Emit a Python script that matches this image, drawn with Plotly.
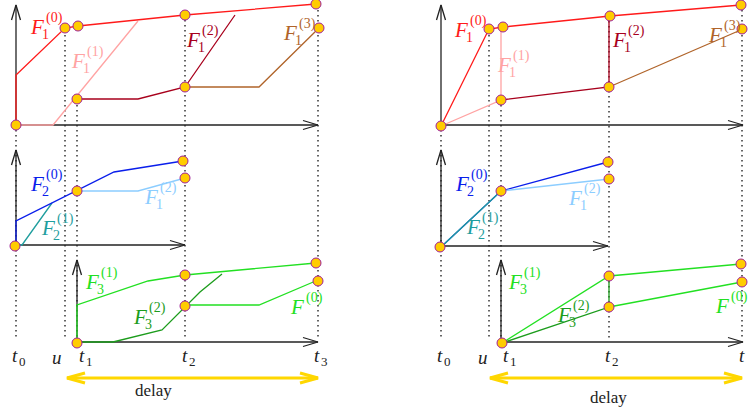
import plotly.graph_objects as go

# ---- time positions on the left copy (the right copy is shifted) ----
T_NAMES = ["t0", "u", "t1", "t2", "t3"]
T_LEFT = [16, 65, 77, 185, 318]
T_RIGHT = [441, 489, 501, 609, 742]

# ---- left diagram: polylines (x, y) ----
l_f1_0 = ([16, 16, 65, 78, 185, 316], [125, 75, 28, 26, 15, 4])
l_f1_1 = ([16, 53, 138], [125, 125, 21])
l_f1_2 = ([77, 138, 185, 235], [99, 99, 87, 15])
l_f1_3 = ([185, 259, 319], [87, 87, 28])
l_f2_0 = ([16, 16, 114, 183], [245, 221, 172, 161])
l_f2_1 = ([16, 22, 52], [245, 245, 203])
l_f1_2b = ([77, 138, 185], [191, 191, 178])
l_f3_1 = ([77, 77, 148, 185, 316], [343, 305, 281, 275, 263])
l_f3_2 = ([77, 113, 162, 200, 222], [342, 342, 330, 292, 274])
l_f_0 = ([185, 259, 318], [305, 305, 280])
l_nodes_x = [16, 65, 78, 185, 316, 77, 185, 319, 15, 77, 183, 185, 77, 185, 185, 316, 318]
l_nodes_y = [125, 28, 26, 15, 4, 99, 87, 28, 246, 191, 161, 178, 343, 275, 306, 263, 281]

# ---- right diagram ----
r_f1_0 = ([441, 489, 503, 610, 741], [126, 29, 27, 16, 5])
r_f1_1 = ([441, 501, 501], [126, 100, 27])
r_f1_2 = ([501, 609, 609], [100, 87, 16])
r_f1_3 = ([609, 743], [87, 29])
r_f2_0 = ([441, 501, 608], [247, 191, 162])
r_f2_1 = ([441, 501], [247, 191])
r_f1_2b = ([501, 609], [191, 179])
r_f3_1 = ([502, 609, 741], [343, 276, 264])
r_f3_2 = ([502, 609, 609], [343, 307, 276])
r_f_0 = ([609, 742], [307, 282])
r_nodes_x = [441, 489, 503, 610, 741, 501, 609, 742, 440, 501, 608, 609, 502, 609, 609, 741, 742]
r_nodes_y = [126, 29, 27, 16, 5, 100, 87, 29, 247, 191, 162, 179, 343, 276, 307, 264, 282]

# axes of the small panels: (x0, y0, x1, y1)
axes_left = [(16, 125, 16, 5), (16, 125, 318, 125), (16, 245, 16, 150), (16, 245, 185, 245),
             (77, 343, 77, 260), (77, 342, 318, 342)]
axes_right = [(441, 126, 441, 5), (441, 125, 743, 125), (441, 247, 441, 150), (441, 246, 608, 246),
              (501, 343, 501, 260), (501, 342, 743, 342)]
dots_top_left = [130, 30, 100, 15, 5]
dots_top_right = [130, 30, 100, 16, 5]
DOT_BOTTOM = 339

RED, PINK, DRED, BROWN = "#ff1a1a", "#ffa3a3", "#a8001c", "#b0642a"
BLUE, TEAL, LBLUE = "#0a1eeb", "#1f9e9e", "#8ccdff"
GREEN, DGREEN = "#22e022", "#1c9c1c"

fig = go.Figure()


def line(xy, color, width=1.3, dash=None):
    fig.add_trace(go.Scatter(x=xy[0], y=xy[1], mode="lines", hoverinfo="skip",
                             line=dict(color=color, width=width, dash=dash)))


def arrow(x0, y0, x1, y1, color="#222222", width=1.3, head=15, half=4.5, both=False):
    line(([x0, x1], [y0, y1]), color, width)
    ends = [(x0, y0, x1, y1)] + ([(x1, y1, x0, y0)] if both else [])
    for a, b, c, d in ends:
        dx, dy = c - a, d - b
        n = (dx * dx + dy * dy) ** 0.5
        ux, uy = dx / n, dy / n
        px, py = -uy, ux
        bx, by = c - ux * head, d - uy * head
        line(([bx + px * half, c, bx - px * half], [by + py * half, d, by - py * half]), color, width)


for xs, tops in ((T_LEFT, dots_top_left), (T_RIGHT, dots_top_right)):
    for x, top in zip(xs, tops):
        line(([x, x], [top, DOT_BOTTOM]), "#333333", 1.5, "1.5px,3.5px")

for ax in axes_left + axes_right:
    arrow(*ax)

curves = [
    (l_f1_1, PINK), (l_f1_0, RED), (l_f1_2, DRED), (l_f1_3, BROWN),
    (l_f2_1, TEAL), (l_f2_0, BLUE), (l_f1_2b, LBLUE),
    (l_f3_2, DGREEN), (l_f3_1, GREEN), (l_f_0, GREEN),
    (r_f1_1, PINK), (r_f1_0, RED), (r_f1_2, DRED), (r_f1_3, BROWN),
    (r_f2_0, BLUE), (r_f2_1, TEAL), (r_f1_2b, LBLUE),
    (r_f3_1, GREEN), (r_f3_2, DGREEN), (r_f_0, GREEN),
]
for xy, c in curves:
    line(xy, c)

fig.add_trace(go.Scatter(x=l_nodes_x + r_nodes_x, y=l_nodes_y + r_nodes_y, mode="markers",
                         hoverinfo="skip",
                         marker=dict(size=10, color="#ffcc00", line=dict(color="#a0209a", width=1))))

# yellow delay arrows
arrow(67, 378, 318, 378, "#ffd700", 3, 18, 5, both=True)
arrow(490, 378, 742, 378, "#ffd700", 3, 18, 5, both=True)

SERIF = "Liberation Serif"


def label(x, y, base, sub, sup, color, size=21, italic=True):
    txt = f"<i>{base}</i>" if italic else base
    fig.add_annotation(x=x, y=y, text=txt, showarrow=False,
                       font=dict(family=SERIF, size=size, color=color))
    if sub:
        fig.add_annotation(x=x + 8, y=y + 7, text=sub, showarrow=False, xanchor="center",
                           font=dict(family=SERIF, size=14, color=color))
    if sup:
        fig.add_annotation(x=x + 17, y=y - 9, text=sup, showarrow=False, xanchor="center",
                           font=dict(family=SERIF, size=14, color=color))


labels = [
    (37, 27, "1", "(0)", RED), (78, 61, "1", "(1)", PINK), (193, 40, "1", "(2)", DRED),
    (290, 33, "1", "(3)", BROWN), (37, 184, "2", "(0)", BLUE), (48, 228, "2", "(1)", TEAL),
    (151, 197, "1", "(2)", LBLUE), (92, 282, "3", "(1)", GREEN), (140, 317, "3", "(2)", DGREEN),
    (297, 307, "", "(0)", GREEN),
    (461, 30, "1", "(0)", RED), (504, 65, "1", "(1)", PINK), (619, 40, "1", "(2)", DRED),
    (715, 35, "1", "(3)", BROWN), (462, 184, "2", "(0)", BLUE), (473, 227, "2", "(1)", TEAL),
    (575, 198, "1", "(2)", LBLUE), (515, 282, "3", "(1)", GREEN), (564, 315, "3", "(2)", DGREEN),
    (722, 306, "", "(0)", GREEN),
]
for x, y, sub, sup, c in labels:
    label(x, y, "F", sub, sup, c)

tick_left = [(15, "0"), (57, None), (82, "1"), (185, "2"), (317, "3")]
tick_right = [(440, "0"), (483, None), (506, "1"), (608, "2"), (742, "3")]
for x, s in tick_left + tick_right:
    if s is None:
        label(x, 357, "u", "", "", "#222222", 19)
    else:
        fig.add_annotation(x=x, y=355, text="<i>t</i>", showarrow=False,
                           font=dict(family=SERIF, size=19, color="#222222"))
        fig.add_annotation(x=x + 7, y=361, text=s, showarrow=False,
                           font=dict(family=SERIF, size=13, color="#222222"))

fig.add_annotation(x=153, y=390, text="delay", showarrow=False,
                   font=dict(family=SERIF, size=17, color="#222222"))
fig.add_annotation(x=608, y=397, text="delay", showarrow=False,
                   font=dict(family=SERIF, size=17, color="#222222"))

fig.update_layout(width=748, height=410, margin=dict(l=0, r=0, t=0, b=0),
                  paper_bgcolor="white", plot_bgcolor="white", showlegend=False,
                  xaxis=dict(range=[0, 748], visible=False, fixedrange=True),
                  yaxis=dict(range=[410, 0], visible=False, fixedrange=True))
# the page's default body margin would push the drawing 8px right and down
fig.write_html("out.html", config={"displayModeBar": False},
               post_script="document.body.style.margin='0';")
